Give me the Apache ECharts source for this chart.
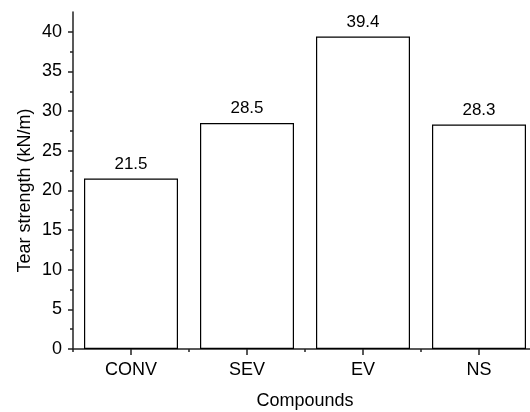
<!DOCTYPE html>
<html>
<head>
<meta charset="utf-8">
<script src="https://cdn.jsdelivr.net/npm/echarts@6/dist/echarts.min.js"></script>
<style>html,body{margin:0;padding:0;background:#fff}#c{width:530px;height:412px}</style>
</head>
<body>
<div id="c"></div>
<script>
const categories = ['CONV', 'SEV', 'EV', 'NS'];
const tearStrength = [21.5, 28.5, 39.4, 28.3];
const yMajorTicks = [0, 5, 10, 15, 20, 25, 30, 35, 40];
const yMinorTicks = [2.5, 7.5, 12.5, 17.5, 22.5, 27.5, 32.5, 37.5];
const yMax = 42.5;

const FONT = 'Liberation Sans, Arial, sans-serif';
const chart = echarts.init(document.getElementById('c'), null, {renderer: 'canvas'});
chart.setOption({
  animation: false,
  backgroundColor: '#fff',
  grid: {left: 73, right: -7, top: 12, bottom: 63, containLabel: false, outerBoundsMode: 'none'},
  xAxis: [{
    type: 'category',
    data: categories,
    boundaryGap: true,
    name: 'Compounds',
    nameLocation: 'middle',
    nameGap: 43,
    nameTextStyle: {fontFamily: FONT, fontSize: 18, color: '#000'},
    axisLine: {lineStyle: {color: '#222', width: 1.5}},
    axisTick: {show: true, interval: 0, length: 3, lineStyle: {color: '#222', width: 1.5}},
    axisLabel: {fontFamily: FONT, fontSize: 18, color: '#000', margin: 12},
    splitLine: {show: false}
  }, {
    type: 'category',
    data: categories,
    position: 'bottom',
    boundaryGap: true,
    axisLine: {show: false},
    axisTick: {show: true, alignWithLabel: true, interval: 0, length: 6, lineStyle: {color: '#222', width: 1.5}},
    axisLabel: {show: false},
    splitLine: {show: false}
  }],
  yAxis: [{
    type: 'value',
    min: 0,
    max: yMax,
    interval: 5,
    name: 'Tear strength (kN/m)',
    nameLocation: 'middle',
    nameGap: 39,
    nameMoveOverlap: false,
    nameRotate: 90,
    nameTextStyle: {fontFamily: FONT, fontSize: 18, color: '#000', padding: [0, 20, 0, 0]},
    axisLine: {show: true, lineStyle: {color: '#222', width: 1.5}},
    axisTick: {show: true, length: 5, customValues: yMajorTicks, lineStyle: {color: '#222', width: 1.5}},
    axisLabel: {fontFamily: FONT, fontSize: 18, color: '#000', margin: 11, customValues: yMajorTicks},
    splitLine: {show: false}
  }, {
    type: 'value',
    min: 0,
    max: yMax,
    position: 'left',
    axisLine: {show: false},
    axisTick: {show: true, length: 3, customValues: yMinorTicks, lineStyle: {color: '#222', width: 1.5}},
    axisLabel: {show: false},
    splitLine: {show: false}
  }],
  series: [{
    type: 'bar',
    data: tearStrength,
    xAxisIndex: 0,
    yAxisIndex: 0,
    barWidth: 94,
    itemStyle: {color: '#fff', borderColor: '#000', borderWidth: 1.2},
    label: {
      show: true,
      position: 'top',
      distance: 6,
      fontFamily: FONT,
      fontSize: 17,
      color: '#000',
      formatter: p => p.value.toFixed(1)
    }
  }]
});
</script>
</body>
</html>
